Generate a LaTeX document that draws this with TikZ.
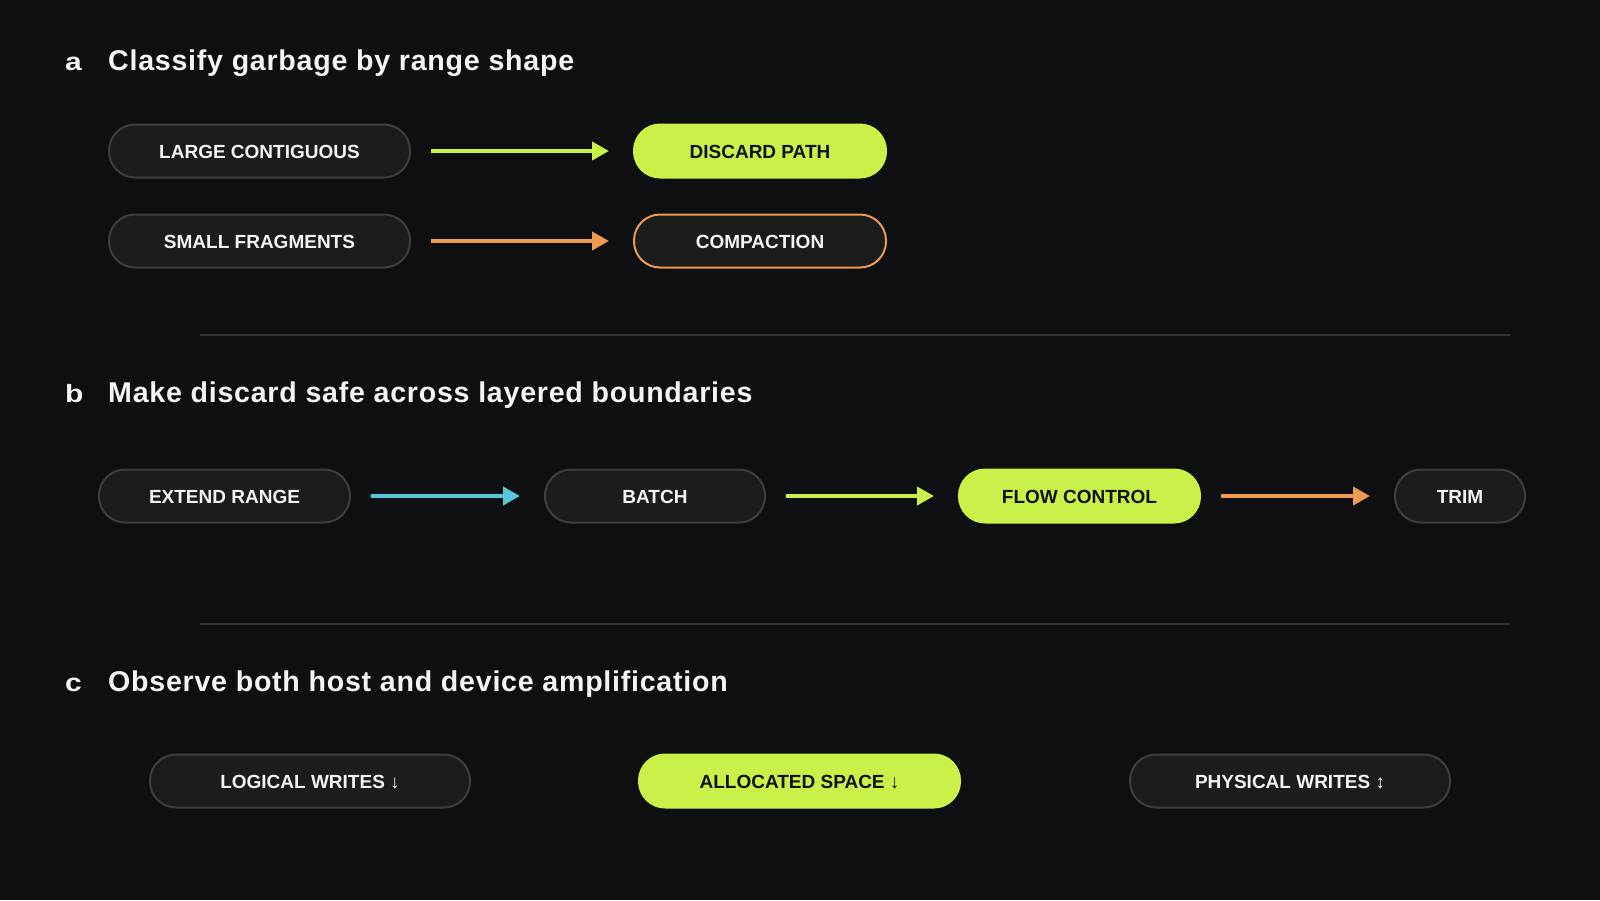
\documentclass[tikz,border=0pt]{standalone}
\usepackage{fontspec}
\usepackage{graphicx}
\setmainfont{Liberation Sans}
\newfontfamily\titlefont[LetterSpace=2.6]{Liberation Sans}
\usetikzlibrary{arrows.meta}
\definecolor{bg}{HTML}{0E0F11}
\definecolor{boxfill}{HTML}{1B1D1C}
\definecolor{boxline}{HTML}{3C3F3E}
\definecolor{lime}{HTML}{C9F14A}
\definecolor{amber}{HTML}{EF9A4E}
\definecolor{sky}{HTML}{5AC6DA}
\definecolor{ink}{HTML}{111311}
\definecolor{rule}{HTML}{2F3530}
\definecolor{paper}{HTML}{F4F4F2}
\newcommand{\tag}[1]{\scalebox{1.2}[1]{#1}}
\begin{document}
\begin{tikzpicture}[x=1pt,y=-1pt,
  pill/.style={draw=boxline, fill=boxfill, line width=2pt, rounded corners=26pt,
    minimum height=53pt, inner sep=0pt, text=paper,
    text height=15.6pt, text depth=0pt,
    font=\fontsize{19}{21}\selectfont\bfseries},
  hot/.style={pill, draw=lime, fill=lime, text=ink},
  warm/.style={pill, draw=amber},
  flow/.style={line width=4pt, -{Triangle[length=17pt,width=18pt]},
    shorten <=20pt, shorten >=24pt},
  ttl/.style={anchor=base west, inner sep=0pt, text=paper,
    font=\titlefont\fontsize{28.6}{31}\selectfont\bfseries},
  tagl/.style={anchor=base west, inner sep=0pt, text=paper,
    font=\fontsize{25}{28}\selectfont\bfseries},
  sep/.style={draw=rule, line width=1.5pt}]
\fill[bg] (0,0) rectangle (1600,900);
\useasboundingbox (0,0) rectangle (1600,900);

% section a
\node[tagl] (la) at (65,70) {\tag{a}};
\node[ttl] (ta) at (108,70) {Classify garbage by range shape};
\node[pill, minimum width=301pt] (lc) at (259.5,151) {LARGE CONTIGUOUS};
\node[hot, minimum width=252pt] (dp) at (760,151) {DISCARD PATH};
\node[pill, minimum width=301pt] (sf) at (259.5,241) {SMALL FRAGMENTS};
\node[warm, minimum width=252pt] (cp) at (760,241) {COMPACTION};
\draw[flow, lime] (lc) -- (dp);
\draw[flow, amber] (sf) -- (cp);

\coordinate (s1a) at (200,335);
\coordinate (s1b) at (1510,335);
\draw[sep] (s1a) -- (s1b);

% section b
\node[tagl] (lb) at (65,402) {\tag{b}};
\node[ttl] (tb) at (108,402) {Make discard safe across layered boundaries};
\node[pill, minimum width=251pt] (er) at (224.5,496) {EXTEND RANGE};
\node[pill, minimum width=220pt] (bt) at (655,496) {BATCH};
\node[hot, minimum width=241pt] (fc) at (1079.5,496) {FLOW CONTROL};
\node[pill, minimum width=130pt] (tr) at (1460,496) {TRIM};
\draw[flow, sky] (er) -- (bt);
\draw[flow, lime] (bt) -- (fc);
\draw[flow, amber] (fc) -- (tr);

\coordinate (s2a) at (200,624);
\coordinate (s2b) at (1510,624);
\draw[sep] (s2a) -- (s2b);

% section c
\node[tagl] (lcc) at (65,691) {\tag{c}};
\node[ttl] (tc) at (108,691) {Observe both host and device amplification};
\node[pill, minimum width=320pt] (lw) at (310,781) {LOGICAL WRITES ↓};
\node[hot, minimum width=321pt] (as) at (799.5,781) {ALLOCATED SPACE ↓};
\node[pill, minimum width=320pt] (pw) at (1290,781) {PHYSICAL WRITES ↕};
\end{tikzpicture}
\end{document}
